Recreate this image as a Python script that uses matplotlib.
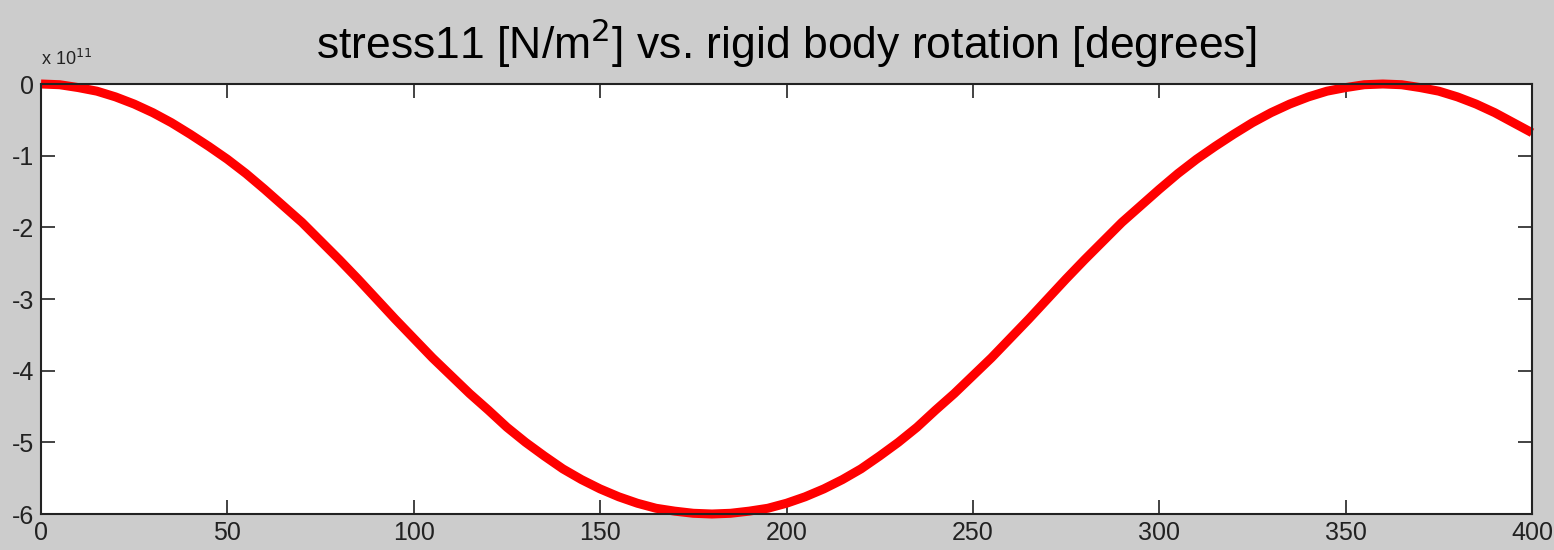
import matplotlib
matplotlib.use("Agg")
import matplotlib.pyplot as plt
from matplotlib.ticker import FuncFormatter

plt.rcParams['font.family'] = ['Liberation Sans', 'DejaVu Sans']
plt.rcParams['axes.unicode_minus'] = False

# rotation angle [degrees], every 5 degrees
angle = list(range(0, 405, 5))
# stress11 in units of 1e11 N/m^2
stress_e11 = [0, -0.01, -0.05, -0.10, -0.18, -0.28, -0.40, -0.54, -0.70,
              -0.87, -1.05, -1.25, -1.47, -1.70, -1.93, -2.19, -2.45, -2.72,
              -3.0, -3.28, -3.55, -3.82, -4.07, -4.32, -4.55, -4.79, -5.0,
              -5.19, -5.37, -5.52, -5.65, -5.76, -5.85, -5.92, -5.96, -5.99,
              -6.0, -5.99, -5.96, -5.92, -5.85, -5.76, -5.65, -5.52, -5.37,
              -5.19, -5.0, -4.79, -4.55, -4.32, -4.07, -3.82, -3.55, -3.28,
              -3.0, -2.72, -2.45, -2.19, -1.93, -1.70, -1.47, -1.25, -1.05,
              -0.87, -0.70, -0.54, -0.40, -0.28, -0.18, -0.10, -0.05, -0.01,
              0, -0.01, -0.05, -0.10, -0.18, -0.28, -0.40, -0.54, -0.68]
stress = [s * 1e11 for s in stress_e11]

xticks = [0, 50, 100, 150, 200, 250, 300, 350, 400]
yticks = [-6e11, -5e11, -4e11, -3e11, -2e11, -1e11, 0]

fig = plt.figure(figsize=(15.54, 5.5), dpi=100, facecolor='#cccccc')
ax = fig.add_axes([41/1554, 1-514/550, (1532-41)/1554, (514-84)/550])
ax.set_facecolor('white')

ax.plot(angle, stress, color='red', lw=6.5, solid_capstyle='butt',
        solid_joinstyle='round', clip_on=False)

ax.set_xlim(0, 400)
ax.set_ylim(-6e11, 0)
ax.set_xticks(xticks)
ax.set_yticks(yticks)
ax.yaxis.set_major_formatter(FuncFormatter(lambda v, p: '%d' % round(v / 1e11)))
ax.tick_params(direction='in', length=10, width=1.2, labelsize=18,
               top=True, right=True, colors='#222222', pad=5)
for s in ax.spines.values():
    s.set_linewidth(1.5)
    s.set_color('#222222')

ax.text(0, 1.035, r'x 10$^{11}$', transform=ax.transAxes, fontsize=13,
        ha='left', va='bottom', color='#222222')
ax.set_title(r'stress11 [N/m$^2$] vs. rigid body rotation [degrees]',
             fontsize=32, pad=18, color='black')

fig.savefig('out.png', dpi=100, facecolor=fig.get_facecolor())
